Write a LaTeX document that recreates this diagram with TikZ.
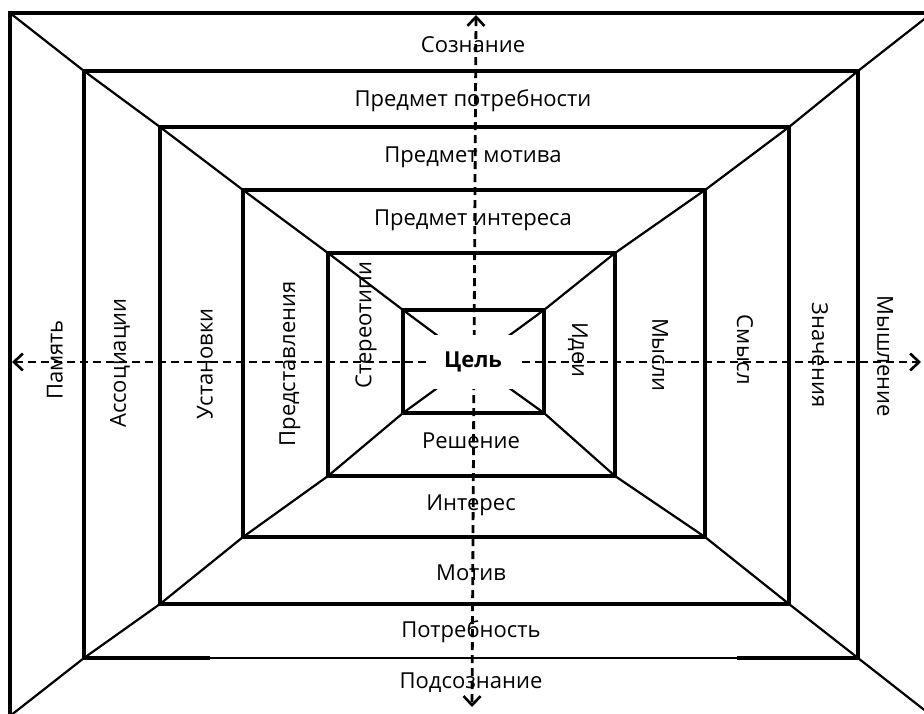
\documentclass[tikz,border=0pt]{standalone}
\usepackage{fontspec}
\setmainfont{Open Sans}
\usetikzlibrary{arrows.meta}

\begin{document}
\begin{tikzpicture}[x=1pt, y=-1pt, every node/.style={font=\fontsize{22}{26}\selectfont, inner sep=0pt}]
        % Styles for frames, diagonals and the two axes
        \tikzset{
            frame/.style={line width=3.3pt},
            thinframe/.style={line width=1.6pt},
            diag/.style={line width=2.2pt},
            barb/.tip={Straight Barb[length=9pt, width=17pt, line width=2.6pt]},
            axis/.style={line width=2.8pt, dash pattern=on 8pt off 5pt, barb-barb},
            up/.style={rotate=90},
            down/.style={rotate=-90}
        }

        \useasboundingbox (0,0) rectangle (924,713);
        \clip (0,0) rectangle (924,713);

        % Corners of the nested frames (1 = outer, 6 = inner)
        \coordinate (TL1) at (10,13);   \coordinate (BR1) at (932,716);
        \coordinate (TL2) at (84,71);   \coordinate (BR2) at (858,658);
        \coordinate (TL3) at (160,127); \coordinate (BR3) at (789,604);
        \coordinate (TL4) at (243,190); \coordinate (BR4) at (705,537);
        \coordinate (TL5) at (328,253); \coordinate (BR5) at (615,476);
        \coordinate (TL6) at (403,310); \coordinate (BR6) at (544,413);
        \foreach \i in {1,...,6}{
            \coordinate (TR\i) at (BR\i |- TL\i);
            \coordinate (BL\i) at (TL\i |- BR\i);
        }
        \coordinate (ctr) at (473,362);

        % Diagonals from the outer corners to the centre
        \foreach \c in {TL,TR,BL,BR}{
            \draw[diag] (\c1) -- (\c2) -- (\c3) -- (\c4) -- (\c5) -- (\c6) -- (ctr);
        }

        % Axes
        \coordinate (axL) at (12,362);
        \coordinate (axR) at (921,362);
        \coordinate (axT) at (476,15);
        \coordinate (axB) at (472,707);
        \draw[axis] (axL) -- (axR);
        \draw[axis] (axT) -- (axB);

        % Centre
        \node[fill=white, minimum width=88pt, minimum height=54pt,
              font=\fontsize{22}{26}\selectfont\bfseries] (goal) at (ctr) {Цель};

        % Frames
        \draw[frame] (TL1) rectangle (BR1);
        \coordinate (gapL) at (210,658);
        \coordinate (gapR) at (737,658);
        \draw[frame] (gapL) -- (BL2) -- (TL2) -- (TR2) -- (BR2) -- (gapR);
        \draw[thinframe] (gapL) -- (gapR);
        \foreach \i in {3,...,6}{
            \draw[frame] (TL\i) rectangle (BR\i);
        }

        % Labels, top and bottom
        \node (soznanie)   at (473,45)  {Сознание};
        \node (predpotr)   at (473,101) {Предмет потребности};
        \node (predmotiv)  at (473,157) {Предмет мотива};
        \node (predinter)  at (473,220) {Предмет интереса};
        \node (reshenie)   at (471,441) {Решение};
        \node (interes)    at (471,505) {Интерес};
        \node (motiv)      at (471,573) {Мотив};
        \node (potrebn)    at (471,632) {Потребность};
        \node (podsozn)    at (471,683) {Подсознание};

        % Labels, left
        \node[up] (pamyat)   at (55,360)  {Память};
        \node[up] (assoc)    at (120,363) {Ассоциации};
        \node[up] (ustanov)  at (205,364) {Установки};
        \node[up] (predst)   at (290,364) {Представления};
        \node[up] (stereo)   at (366,325) {Стереотипи};

        % Labels, right
        \node[down] (idei)     at (578,350) {Идеи};
        \node[down] (mysli)    at (660,355) {Мысли};
        \node[down] (smysl)    at (745,350) {Смысл};
        \node[down] (znachen)  at (820,355) {Значения};
        \node[down] (myshlen)  at (885,356) {Мышление};
\end{tikzpicture}
\end{document}
